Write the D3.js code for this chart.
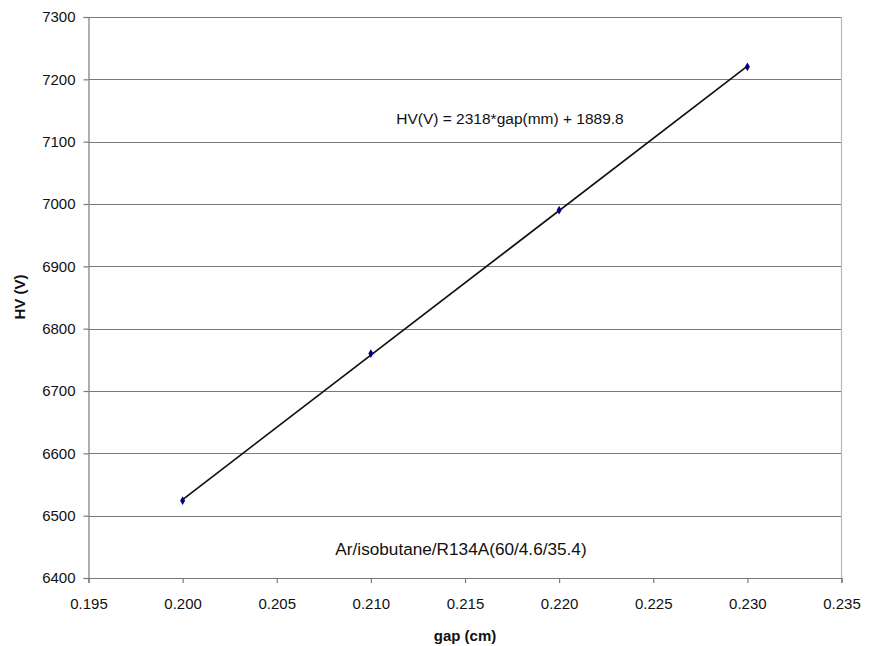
<!DOCTYPE html>
<html>
<head>
<meta charset="utf-8">
<script src="https://cdn.jsdelivr.net/npm/d3@7"></script>
<style>
  html, body { margin: 0; padding: 0; background: #fff; }
  text { font-family: "Liberation Sans", Arial, sans-serif; fill: #111; }
</style>
</head>
<body>
<svg id="chart" width="871" height="646"></svg>
<script>
// Measured operating voltage versus gap size
const gapCm = [0.200, 0.210, 0.220, 0.230];
const hvVolts = [6524, 6760, 6990, 7220];

// Axis ticks
const xTicks = [0.195, 0.200, 0.205, 0.210, 0.215, 0.220, 0.225, 0.230, 0.235];
const yTicks = [6400, 6500, 6600, 6700, 6800, 6900, 7000, 7100, 7200, 7300];

// Linear fit shown on the chart: HV(V) = slope * gap(mm) + intercept
const fitSlope = 2318;
const fitIntercept = 1889.8;
const fitLabel = "HV(V) = 2318*gap(mm) + 1889.8";
const gasLabel = "Ar/isobutane/R134A(60/4.6/35.4)";

const svg = d3.select("#chart");
const plot = { left: 88.5, right: 841.5, top: 17, bottom: 578 };

const x = d3.scaleLinear().domain([0.195, 0.235]).range([plot.left, plot.right]);
const y = d3.scaleLinear().domain([6400, 7300]).range([plot.bottom, plot.top]);

// Horizontal gridlines
svg.append("g")
  .selectAll("line")
  .data(yTicks.filter(d => d > 6400))
  .join("line")
  .attr("x1", plot.left).attr("x2", plot.right)
  .attr("y1", d => Math.round(y(d)) + 0.5).attr("y2", d => Math.round(y(d)) + 0.5)
  .attr("stroke", "#7a7a7a").attr("stroke-width", 1.2);

// Right border of the plot area
svg.append("line")
  .attr("x1", plot.right).attr("x2", plot.right)
  .attr("y1", plot.top).attr("y2", plot.bottom)
  .attr("stroke", "#b8b8b8").attr("stroke-width", 1.2);

// Y axis
const yAxis = svg.append("g")
  .attr("transform", `translate(${plot.left},0)`)
  .call(d3.axisLeft(y).tickValues(yTicks).tickSize(5).tickPadding(8).tickFormat(d3.format("d")));
yAxis.select(".domain").attr("stroke", "#7a7a7a").attr("stroke-width", 1.2);
yAxis.selectAll(".tick line").attr("stroke", "#7a7a7a").attr("stroke-width", 1.2);
yAxis.selectAll("text").style("font-size", "15px").attr("fill", "#222");

// X axis
const xAxis = svg.append("g")
  .attr("transform", `translate(0,${plot.bottom})`)
  .call(d3.axisBottom(x).tickValues(xTicks).tickSize(5).tickPadding(15).tickFormat(d3.format(".3f")));
xAxis.select(".domain").attr("stroke", "#7a7a7a").attr("stroke-width", 1.2);
xAxis.selectAll(".tick line").attr("stroke", "#7a7a7a").attr("stroke-width", 1.2);
xAxis.selectAll("text").style("font-size", "15px").attr("fill", "#222");

// Trend line across the measured range (gap converted from cm to mm)
const xExtent = d3.extent(gapCm);
const fitLine = xExtent.map(g => ({ g, v: fitSlope * g * 10 + fitIntercept }));
svg.append("path")
  .datum(fitLine)
  .attr("d", d3.line().x(d => x(d.g)).y(d => y(d.v)))
  .attr("fill", "none")
  .attr("stroke", "#111")
  .attr("stroke-width", 1.7);

// Data markers (small diamonds)
svg.append("g")
  .selectAll("path")
  .data(gapCm.map((g, i) => ({ g, v: hvVolts[i] })))
  .join("path")
  .attr("transform", d => `translate(${x(d.g)},${y(d.v)})`)
  .attr("d", d3.symbol(d3.symbolDiamond, 22))
  .attr("fill", "#000080");

// Fit equation
svg.append("text")
  .attr("x", 510).attr("y", 124)
  .attr("text-anchor", "middle")
  .style("font-size", "15.5px")
  .text(fitLabel);

// Gas mixture note
svg.append("text")
  .attr("x", 461).attr("y", 555)
  .attr("text-anchor", "middle")
  .style("font-size", "17.2px")
  .text(gasLabel);

// Axis titles
svg.append("text")
  .attr("x", 465).attr("y", 641)
  .attr("text-anchor", "middle")
  .style("font-size", "15px").style("font-weight", "bold")
  .text("gap (cm)");

svg.append("text")
  .attr("transform", "translate(25,297) rotate(-90)")
  .attr("text-anchor", "middle")
  .style("font-size", "15px").style("font-weight", "bold")
  .text("HV (V)");
</script>
</body>
</html>
